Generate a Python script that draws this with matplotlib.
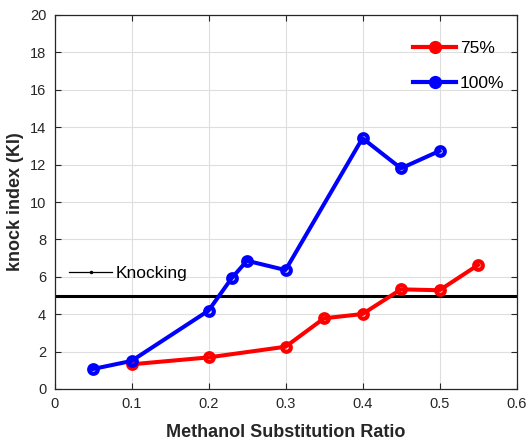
import matplotlib
matplotlib.use("Agg")
import matplotlib.pyplot as plt
from matplotlib.lines import Line2D

plt.rcParams['font.family'] = ['Liberation Sans', 'DejaVu Sans']

x_100 = [0.05, 0.10, 0.20, 0.23, 0.25, 0.30, 0.40, 0.45, 0.50]
y_100 = [1.07, 1.50, 4.19, 5.92, 6.86, 6.36, 13.41, 11.80, 12.73]
x_75 = [0.10, 0.20, 0.30, 0.35, 0.40, 0.45, 0.50, 0.55]
y_75 = [1.32, 1.69, 2.26, 3.78, 4.01, 5.33, 5.28, 6.63]
knock_level = 5.0
xticks = [0, 0.1, 0.2, 0.3, 0.4, 0.5, 0.6]
xticklabels = ['0', '0.1', '0.2', '0.3', '0.4', '0.5', '0.6']
yticks = list(range(0, 21, 2))

W, H = 526, 442
fig = plt.figure(figsize=(W/100, H/100), dpi=100)
ax = fig.add_axes([54.5/W, (H-389)/H, (516.5-54.5)/W, (389-15)/H])

ax.axhline(knock_level, color='black', lw=2.2, zorder=2)
ax.plot(x_75, y_75, color='#ff0000', lw=2.9, marker='o', ms=6.2,
        mfc='none', mew=3.0, zorder=3)
ax.plot(x_100, y_100, color='#0000ff', lw=2.9, marker='o', ms=6.2,
        mfc='none', mew=3.0, zorder=4)

ax.set_xlim(0, 0.6)
ax.set_ylim(0, 20)
ax.set_xticks(xticks)
ax.set_xticklabels(xticklabels)
ax.set_yticks(yticks)
ax.tick_params(direction='in', top=True, right=True, labelsize=10.5, length=4,
               width=0.8, pad=6, labelcolor='#262626', color='#262626')
ax.grid(True, color='#dedede', lw=0.8)
ax.set_axisbelow(True)
for s in ax.spines.values():
    s.set_linewidth(0.9)
    s.set_color('#262626')

ax.set_xlabel('Methanol Substitution Ratio', fontsize=13, fontweight='bold',
              labelpad=9, color='#262626')
ax.set_ylabel('knock index (KI)', fontsize=13, fontweight='bold',
              labelpad=4, color='#262626')

h75 = Line2D([], [], color='#ff0000', lw=3, marker='o', ms=8.5, mfc='#ff0000', mec='#ff0000')
h100 = Line2D([], [], color='#0000ff', lw=3, marker='o', ms=8.5, mfc='#0000ff', mec='#0000ff')
fs = 12.5
leg1 = ax.legend([h75, h100], ['75%', '100%'], loc='center left',
                 bbox_to_anchor=(413/W, (H-65.8)/H), bbox_transform=fig.transFigure,
                 frameon=False, fontsize=fs, handlelength=2.5, labelspacing=1.15,
                 handletextpad=0.2, borderpad=0, borderaxespad=0)
ax.add_artist(leg1)
hk = Line2D([], [], color='black', lw=0.9, marker='.', ms=3)
ax.legend([hk], ['Knocking'], loc='center left',
          bbox_to_anchor=(69/W, (H-273.3)/H), bbox_transform=fig.transFigure,
          frameon=False, fontsize=fs, handlelength=2.5, handletextpad=0.2,
          borderpad=0, borderaxespad=0)

fig.savefig('out.png', dpi=100)
